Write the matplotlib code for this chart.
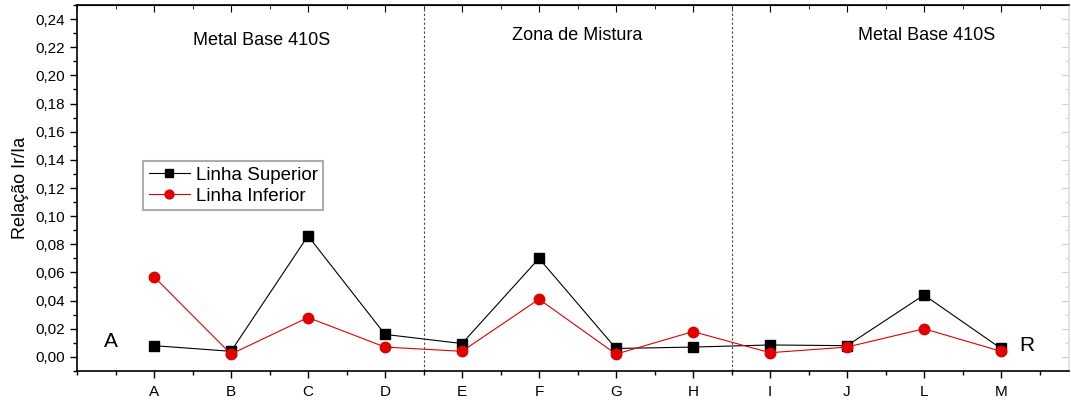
import matplotlib
matplotlib.use("Agg")
import matplotlib.pyplot as plt
from matplotlib.ticker import MultipleLocator, FuncFormatter, FixedLocator

categories = ["A", "B", "C", "D", "E", "F", "G", "H", "I", "J", "L", "M"]
linha_superior = [0.008, 0.004, 0.086, 0.016, 0.0095, 0.070, 0.006, 0.007, 0.0085, 0.008, 0.044, 0.006]
linha_inferior = [0.057, 0.002, 0.028, 0.007, 0.004, 0.041, 0.002, 0.018, 0.003, 0.007, 0.020, 0.004]
zone_labels = ["Metal Base 410S", "Zona de Mistura", "Metal Base 410S"]

plt.rcParams['font.family'] = ['Liberation Sans', 'DejaVu Sans']

fig = plt.figure(figsize=(10.71, 4.0), dpi=100)
ax = fig.add_axes([77/1071, 29/400, (1069-77)/1071, (395-29)/400])

x = list(range(1, len(categories) + 1))
ax.plot(x, linha_superior, color='black', lw=0.8, marker='s', markersize=6.5,
        label='Linha Superior')
ax.plot(x, linha_inferior, color='#e00000', lw=0.8, marker='o', markersize=7.5,
        markeredgecolor='#e00000', markerfacecolor='#e00000', label='Linha Inferior')

ax.set_xlim(0, (1069-77)/77)
ax.set_ylim(-0.01, 0.25)

ax.xaxis.set_major_locator(FixedLocator(x))
ax.set_xticklabels(categories)
ax.xaxis.set_minor_locator(MultipleLocator(0.5))
ax.yaxis.set_major_locator(FixedLocator([i * 0.02 for i in range(13)]))
ax.yaxis.set_minor_locator(MultipleLocator(0.01))
ax.yaxis.set_major_formatter(FuncFormatter(lambda v, p: f"{v:.2f}".replace('.', ',')))

ax.tick_params(axis='both', which='major', direction='out', length=5, width=1, labelsize=11)
ax.tick_params(axis='both', which='minor', direction='out', length=3, width=1)
ax.tick_params(axis='x', which='major', pad=5)
for s in ax.spines.values():
    s.set_linewidth(1.2)
ax.spines['right'].set_color('#dddddd')

secx = ax.secondary_xaxis('top')
secx.set_xticks(x)
secx.set_xticklabels([])
secx.xaxis.set_minor_locator(MultipleLocator(0.5))
secx.tick_params(which='major', direction='in', length=5)
secx.tick_params(which='minor', direction='in', length=3)
secy = ax.secondary_yaxis('right')
secy.set_yticks([i * 0.02 for i in range(13)])
secy.set_yticklabels([])
secy.yaxis.set_minor_locator(MultipleLocator(0.01))
secy.tick_params(which='major', direction='in', length=5, color='#cccccc')
secy.tick_params(which='minor', direction='in', length=3, color='#cccccc')
secy.spines['right'].set_visible(False)

ax.set_ylabel("Relação Ir/Ia", fontsize=13, labelpad=5)

ax.axvline(4.5, color='#444444', lw=0.8, ls=(0, (2, 2)))
ax.axvline(8.5, color='#444444', lw=0.8, ls=(0, (2, 2)))

ax.text(2.4, 0.2245, zone_labels[0], ha='center', va='center', fontsize=13)
ax.text(6.5, 0.228, zone_labels[1], ha='center', va='center', fontsize=13)
ax.text(11.04, 0.228, zone_labels[2], ha='center', va='center', fontsize=13)

ax.text(0.44, 0.011, "A", ha='center', va='center', fontsize=15)
ax.text(12.33, 0.008, "R", ha='center', va='center', fontsize=15)

leg = ax.legend(loc='upper left', bbox_to_anchor=((143-77)/992, (371-161)/366),
                fontsize=13.5, frameon=True, fancybox=False, edgecolor='#999999',
                handlelength=2.2, handletextpad=0.3, borderpad=0.3, labelspacing=0.2,
                borderaxespad=0, markerscale=0.85)
leg.get_frame().set_linewidth(1.5)

fig.savefig("out.png", dpi=100)
